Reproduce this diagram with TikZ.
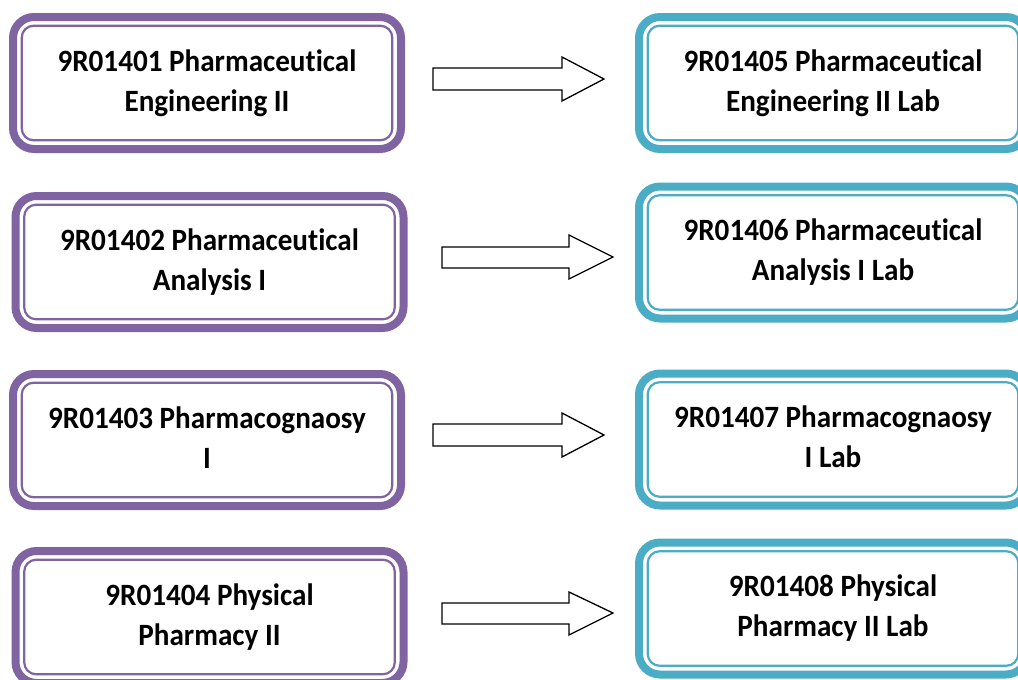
\documentclass[tikz,border=0pt]{standalone}
\usepackage{fontspec}
\setmainfont{Carlito}[FakeStretch=0.94,Ligatures=NoCommon]
\definecolor{boxpurple}{HTML}{8064A2}
\definecolor{boxblue}{HTML}{4BACC6}
\tikzset{
  coursebox/.style={draw=#1, line width=8pt, rounded corners=21pt, fill=white,
    minimum width=388pt, minimum height=132pt, inner sep=0pt,
    align=center, font=\fontsize{31}{40}\selectfont\bfseries, text=black},
  innerline/.style={draw=#1, line width=2.2pt, rounded corners=12pt},
  blockarrow/.style={draw=black, line width=1.3pt, fill=white, line join=miter}
}
\newcommand{\tx}[2]{\strut #1\strut\\\strut #2\strut}
\newcommand{\courseinner}[2]{\draw[innerline=#2] ([shift={(12.7,12.7)}]#1.north west) rectangle ([shift={(-12.7,-12.7)}]#1.south east);}
\begin{document}
\begin{tikzpicture}[x=1pt,y=-1pt]
\useasboundingbox (0,0) rectangle (1018,680);
\clip (0,0) rectangle (1018,680);
% left boxes
\node[coursebox=boxpurple] (L1) at (207,83) {\tx{9R01401 Pharmaceutical}{Engineering II}};
\node[coursebox=boxpurple] (L2) at (209.5,262) {\tx{9R01402 Pharmaceutical}{Analysis I}};
\node[coursebox=boxpurple] (L3) at (207,440) {\tx{9R01403 Pharmacognaosy}{I}};
\node[coursebox=boxpurple] (L4) at (209.5,617) {\tx{9R01404 Physical}{Pharmacy II}};
% right boxes
\node[coursebox=boxblue] (R1) at (833,83) {\tx{9R01405 Pharmaceutical}{Engineering II Lab}};
\node[coursebox=boxblue] (R2) at (833,252.5) {\tx{9R01406 Pharmaceutical}{Analysis I Lab}};
\node[coursebox=boxblue] (R3) at (833,439.5) {\tx{9R01407 Pharmacognaosy}{I Lab}};
\node[coursebox=boxblue] (R4) at (833,608.5) {\tx{9R01408 Physical}{Pharmacy II Lab}};
% inner thin lines
\courseinner{L1}{boxpurple}
\courseinner{L2}{boxpurple}
\courseinner{L3}{boxpurple}
\courseinner{L4}{boxpurple}
\courseinner{R1}{boxblue}
\courseinner{R2}{boxblue}
\courseinner{R3}{boxblue}
\courseinner{R4}{boxblue}
% block arrows
\draw[blockarrow] (433,68) -- (562,68) -- (562,57) -- (604,79) -- (562,101) -- (562,90) -- (433,90) -- cycle;
\draw[blockarrow] (442,247) -- (569,247) -- (569,235) -- (613,257) -- (569,279) -- (569,268) -- (442,268) -- cycle;
\draw[blockarrow] (433,424) -- (562,424) -- (562,413) -- (604,435) -- (562,457) -- (562,446) -- (433,446) -- cycle;
\draw[blockarrow] (442,603) -- (569,603) -- (569,592) -- (613,613) -- (569,635) -- (569,624) -- (442,624) -- cycle;
\end{tikzpicture}
\end{document}
